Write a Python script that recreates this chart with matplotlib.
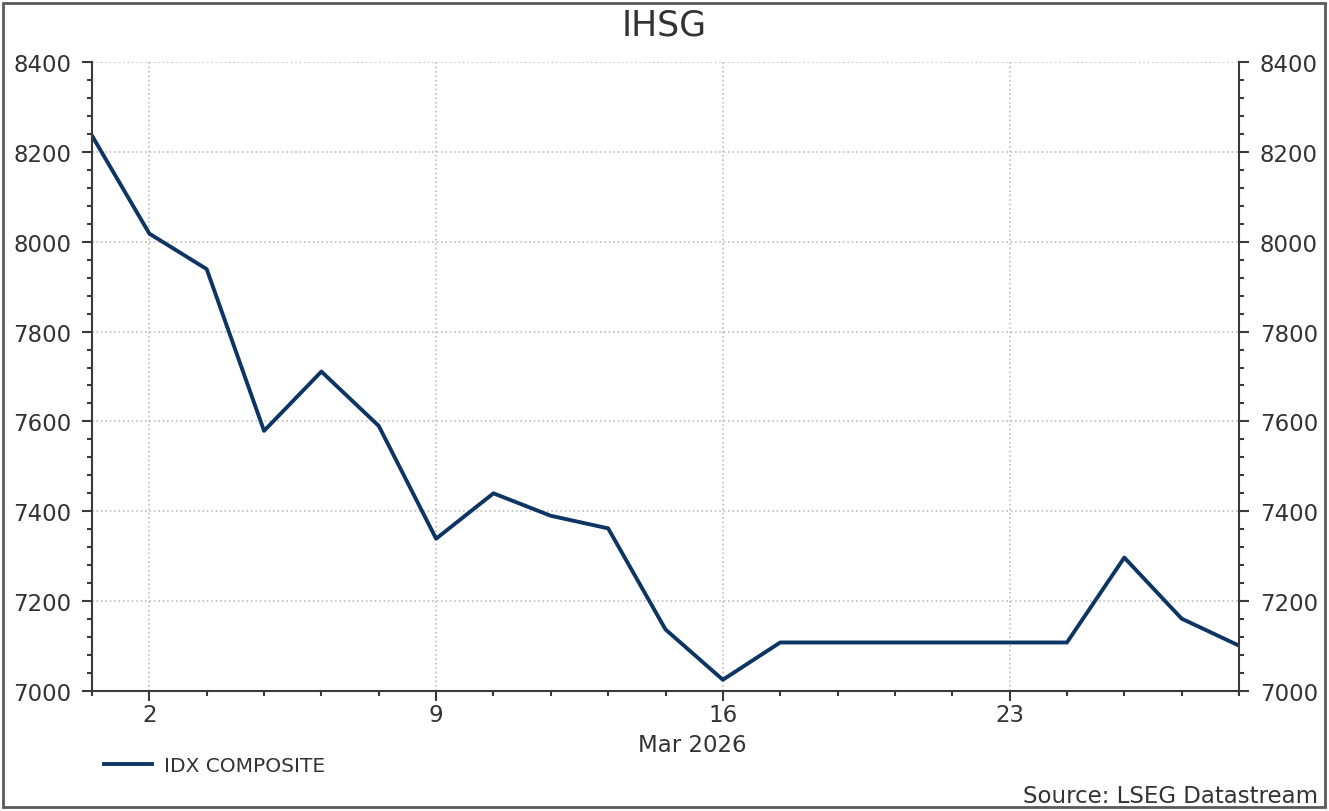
import numpy as np
import pandas as pd
import matplotlib.pyplot as plt
from matplotlib.patches import Rectangle
from matplotlib.lines import Line2D

plt.rcParams['font.family'] = 'DejaVu Sans'

# trading days (weekends skipped on the axis)
dates = ['2026-02-27',
         '2026-03-02', '2026-03-03', '2026-03-04', '2026-03-05', '2026-03-06',
         '2026-03-09', '2026-03-10', '2026-03-11', '2026-03-12', '2026-03-13',
         '2026-03-16', '2026-03-17', '2026-03-18', '2026-03-19', '2026-03-20',
         '2026-03-23', '2026-03-24', '2026-03-25', '2026-03-26', '2026-03-27']
ihsg = [8236,
        8018, 7939, 7579, 7711, 7590,
        7339, 7440, 7390, 7362, 7137,
        7025, 7108, 7108, 7108, 7108,
        7108, 7108, 7297, 7161, 7101]
y_major = [7000, 7200, 7400, 7600, 7800, 8000, 8200, 8400]

txt = '#333333'
navy = '#0d3563'

# %%
d = pd.to_datetime(dates)
x = np.arange(len(dates))
mon = x[d.dayofweek == 0]
mon_labels = [str(v) for v in d.day[d.dayofweek == 0]]

fig = plt.figure(figsize=(13.29, 8.12), dpi=100)
ax = fig.add_axes([92/1329, 1-692/812, (1239-92)/1329, (692-63)/812])

ax.plot(x, ihsg, color=navy, lw=2.8)

ax.set_xlim(0, len(x)-1)
ax.set_ylim(7000, 8400)
ax.set_yticks(y_major)
ax.set_yticks(np.arange(7000, 8401, 40), minor=True)
ax.set_xticks(mon)
ax.set_xticklabels(mon_labels)
ax.set_xticks(x, minor=True)

ax.tick_params(axis='y', which='both', left=True, right=True,
               labelleft=True, labelright=True)
ax.tick_params(which='major', direction='out', length=7, width=1.5,
               color='#3a3a3a', labelcolor=txt, labelsize=16.5)
ax.tick_params(which='minor', direction='out', length=3.5, width=1.5,
               color='#3a3a3a')
ax.tick_params(axis='y', which='major', pad=8)
ax.tick_params(axis='x', which='major', pad=2)

ax.grid(which='major', ls=':', color='#bdbdbd', lw=1.2)
ax.spines['top'].set_visible(False)
for s in ['left', 'right', 'bottom']:
    ax.spines[s].set_color('#3a3a3a')
    ax.spines[s].set_linewidth(1.5)

fig.text(664/1329, 1-25/812, 'IHSG', ha='center', va='center',
         fontsize=25, color=txt)
fig.text(692/1329, 1-746/812, 'Mar 2026', ha='center', va='center',
         fontsize=16.5, color=txt)
fig.text(1318/1329, 1-797/812, 'Source: LSEG Datastream', ha='right',
         va='center', fontsize=16.5, color=txt)

handle = Line2D([], [], color=navy, lw=2.8)
fig.legend([handle], ['IDX COMPOSITE'], loc='center left',
           bbox_to_anchor=(104/1329, 1-767/812), frameon=False,
           fontsize=14.5, handlelength=2.4, handletextpad=0.6,
           borderpad=0, borderaxespad=0, labelcolor=txt)

fig.add_artist(Rectangle((3/1329, 4/812), (1325-3)/1329, (810-6)/812,
                         transform=fig.transFigure, fill=False,
                         ec='#5a5a5a', lw=2))

fig.savefig('out.png', dpi=100)
